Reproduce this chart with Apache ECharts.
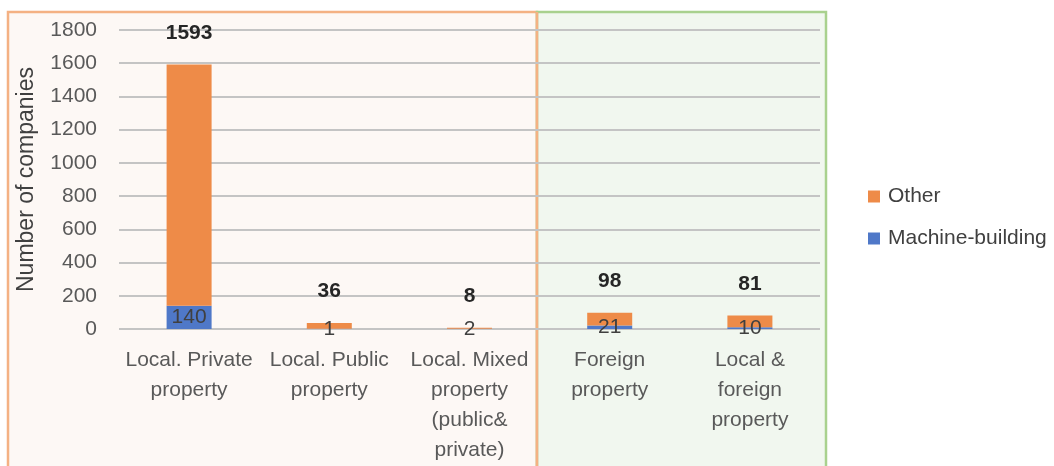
<!DOCTYPE html>
<html><head><meta charset="utf-8">
<script src="https://cdn.jsdelivr.net/npm/echarts@6/dist/echarts.min.js"></script>
<style>html,body{margin:0;padding:0;background:#fff}#c{width:1054px;height:466px}</style>
</head><body><div id="c"></div>
<script>
const categories = ["Local. Private\nproperty", "Local. Public\nproperty", "Local. Mixed\nproperty\n(public&\nprivate)", "Foreign\nproperty", "Local &\nforeign\nproperty"];
const machineBuilding = [140, 1, 2, 21, 10];
const totals = [1593, 36, 8, 98, 81];
const other = totals.map((t, i) => t - machineBuilding[i]);
const yTicks = { min: 0, max: 1800, interval: 200 };

const FONT = "'Liberation Sans', Arial, sans-serif";
const chart = echarts.init(document.getElementById('c'), null, { renderer: 'canvas' });
chart.setOption({
  animation: false,
  backgroundColor: '#ffffff',
  textStyle: { fontFamily: FONT },
  graphic: [
    { type: 'rect', z: -10, shape: { x: 8, y: 12, width: 529, height: 470 },
      style: { fill: '#FDF8F5', stroke: '#F4B183', lineWidth: 2.5 } },
    { type: 'rect', z: -10, shape: { x: 537, y: 12, width: 289, height: 470 },
      style: { fill: '#F1F7EF', stroke: '#A9D18E', lineWidth: 2.5 } },
    { type: 'line', z: -9, shape: { x1: 537, y1: 12, x2: 537, y2: 480 },
      style: { stroke: '#F4B183', lineWidth: 2.5 } }
  ],
  grid: { left: 119, right: 234, top: 30, bottom: 137 },
  legend: {
    orient: 'vertical', left: 863, top: 181, itemGap: 21,
    itemWidth: 12, itemHeight: 12, icon: 'rect',
    data: ['Other', 'Machine-building'],
    textStyle: { fontFamily: FONT, fontSize: 21, color: '#404040', padding: [0, 0, 0, 3] }
  },
  xAxis: {
    type: 'category', data: categories,
    axisLine: { show: false }, axisTick: { show: false },
    axisLabel: { fontFamily: FONT, fontSize: 21, color: '#595959', lineHeight: 30, margin: 16, interval: 0 }
  },
  yAxis: {
    type: 'value', min: yTicks.min, max: yTicks.max, interval: yTicks.interval,
    name: 'Number of companies', nameLocation: 'middle', nameGap: 81, nameRotate: 90,
    nameTextStyle: { fontFamily: FONT, fontSize: 23, color: '#404040' },
    axisLine: { show: false }, axisTick: { show: false },
    axisLabel: { fontFamily: FONT, fontSize: 21, color: '#595959', margin: 22, formatter: v => String(v) },
    splitLine: { lineStyle: { color: '#C4C4C4', width: 2 } }
  },
  series: [
    {
      name: 'Machine-building', type: 'bar', stack: 's', barWidth: 45,
      data: machineBuilding,
      itemStyle: { color: '#4F78C8' },
      label: { show: true, position: 'inside', fontFamily: FONT, fontSize: 21, color: '#404040' }
    },
    {
      name: 'Other', type: 'bar', stack: 's', barWidth: 45,
      data: other,
      itemStyle: { color: '#EE8B48' },
      label: {
        show: true, position: 'top', distance: 21,
        formatter: p => String(totals[p.dataIndex]),
        fontFamily: FONT, fontSize: 21, fontWeight: 'bold', color: '#262626'
      }
    }
  ]
});
</script></body></html>
